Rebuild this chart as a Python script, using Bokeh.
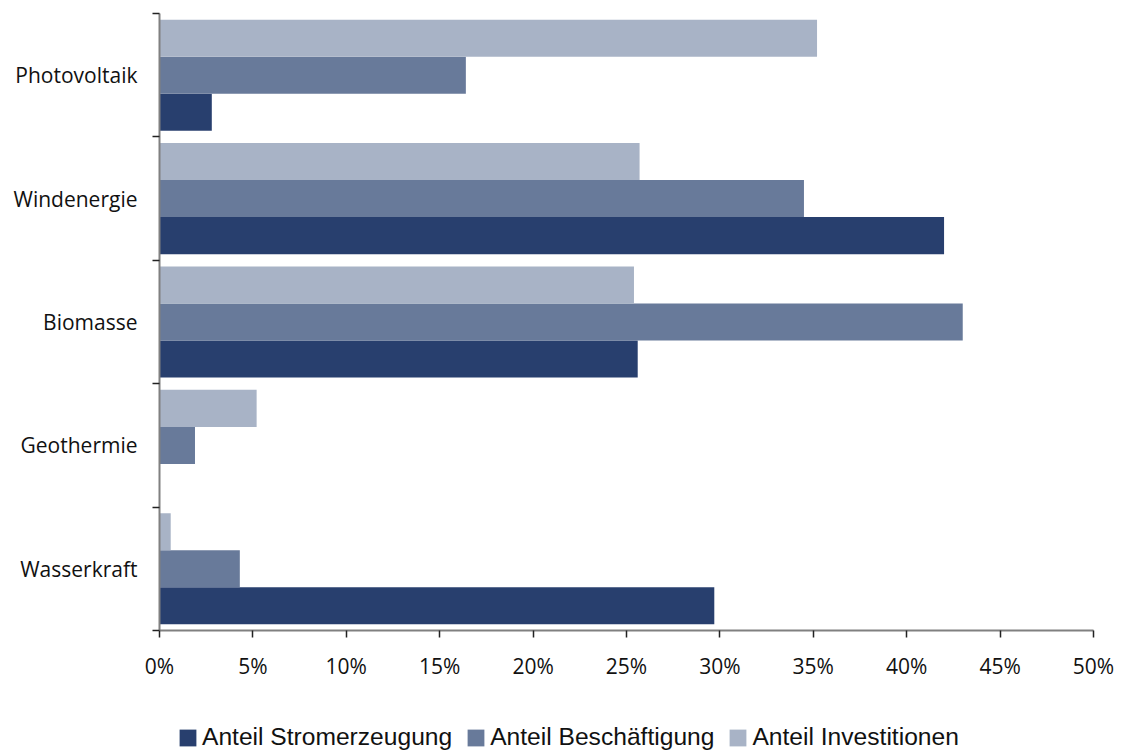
from bokeh.plotting import figure
from bokeh.layouts import column
from bokeh.models import (Range1d, FixedTicker, PrintfTickFormatter, Legend, LegendItem,
                          ColumnDataSource)
from bokeh.embed import file_html
from bokeh.resources import INLINE

# Data (top to bottom as shown)
categories = ["Photovoltaik", "Windenergie", "Biomasse", "Geothermie", "Wasserkraft"]
anteil_strom = [2.8, 42.0, 25.6, 0.0, 29.7]
anteil_besch = [16.4, 34.5, 43.0, 1.9, 4.3]
anteil_invest = [35.2, 25.7, 25.4, 5.2, 0.6]
series_names = ["Anteil Stromerzeugung", "Anteil Beschäftigung", "Anteil Investitionen"]
x_ticks = [0, 5, 10, 15, 20, 25, 30, 35, 40, 45, 50]

colors = ["#283F6E", "#687A9A", "#A8B3C6"]

n = len(categories)
ypos = [n - 1 - i for i in range(n)]

p = figure(width=1121, height=700, output_backend="svg", toolbar_location=None,
           x_range=Range1d(0, 50), y_range=Range1d(-0.5, n - 0.5),
           min_border_left=159, min_border_right=28, min_border_top=13,
           min_border_bottom=70)
p.outline_line_color = None
p.xgrid.visible = False
p.ygrid.visible = False
p.background_fill_color = "white"
p.border_fill_color = "white"

bar_h = 0.3
offsets = [-0.3, 0.0, 0.3]
sources = []
for vals, off, col in zip([anteil_strom, anteil_besch, anteil_invest], offsets, colors):
    src = ColumnDataSource(dict(y=[y + off for y in ypos], right=vals))
    sources.append(src)
    p.hbar(y="y", left=0, right="right", height=bar_h, source=src,
           fill_color=col, line_color=None)

# X axis
xa = p.xaxis[0]
xa.ticker = FixedTicker(ticks=x_ticks)
xa.formatter = PrintfTickFormatter(format="%d%%")
xa.major_tick_in = 0
xa.major_tick_out = 7
xa.minor_tick_out = 0
xa.minor_tick_in = 0
xa.axis_line_color = "#808080"
xa.axis_line_width = 2
xa.major_tick_line_color = "#222222"
xa.major_tick_line_width = 1.5
xa.major_label_text_font = "Open Sans"
xa.major_label_text_font_size = "21px"
xa.major_label_text_color = "#111111"
xa.major_label_standoff = 14

# Y axis
ya = p.yaxis[0]
ya.ticker = FixedTicker(ticks=ypos, minor_ticks=[y - 0.5 for y in range(n + 1)])
ya.major_label_overrides = {y: c for y, c in zip(ypos, categories)}
ya.major_tick_in = 0
ya.major_tick_out = 0
ya.minor_tick_in = 0
ya.minor_tick_out = 7
ya.minor_tick_line_color = "#222222"
ya.minor_tick_line_width = 1.5
ya.axis_line_color = "#808080"
ya.axis_line_width = 2
ya.major_label_text_font = "Open Sans"
ya.major_label_text_font_size = "21px"
ya.major_label_text_color = "#111111"
ya.major_label_standoff = 15

# Legend strip (small figure below; its view window shows no bars, only the legend)
lg = figure(width=1121, height=52, output_backend="svg", toolbar_location=None,
            x_range=Range1d(0, 50), y_range=Range1d(n + 10, n + 11),
            min_border_left=0, min_border_right=0, min_border_top=0, min_border_bottom=0)
lg.axis.visible = False
lg.grid.visible = False
lg.outline_line_color = None
lg.border_fill_color = "white"
leg_renderers = []
for src, col in zip(sources, colors):
    r = lg.hbar(y="y", left=0, right="right", height=bar_h, source=src,
                fill_color=col, line_color=None)
    leg_renderers.append(r)

legend = Legend(items=[LegendItem(label=nm, renderers=[r]) for nm, r in zip(series_names, leg_renderers)],
                orientation="horizontal", location=(18, 1),
                glyph_width=21, glyph_height=21, label_standoff=4, spacing=13,
                label_text_font="Liberation Sans", label_text_font_size="24.6px",
                label_text_color="#111111", background_fill_alpha=0,
                border_line_color=None, padding=0, margin=0)
lg.add_layout(legend, "center")

open("out.html", "w").write(file_html(column(p, lg, spacing=0), INLINE))
